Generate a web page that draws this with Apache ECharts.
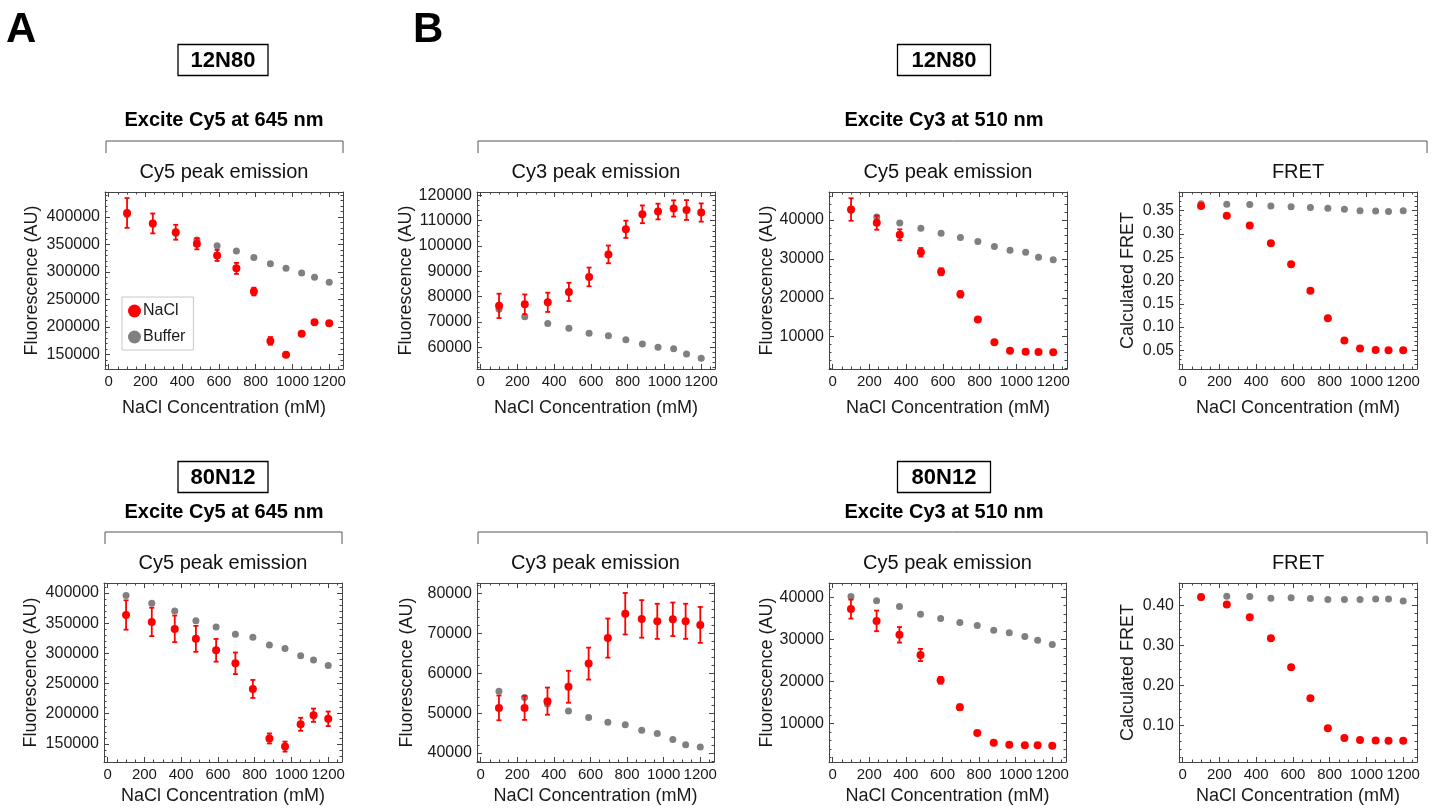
<!DOCTYPE html>
<html>
<head>
<meta charset="utf-8">
<title>NaCl titration</title>
<script src="https://cdn.jsdelivr.net/npm/echarts@6/dist/echarts.min.js"></script>
<style>
html, body { margin: 0; padding: 0; background: #fff; }
#chart { width: 1440px; height: 811px; }
</style>
</head>
<body>
<div id="chart"></div>
<script>
// NaCl concentrations (mM), same for every panel
const conc = [100, 240, 365, 480, 590, 695, 790, 880, 965, 1050, 1120, 1200];
const xTicks = [0, 200, 400, 600, 800, 1000, 1200];

// 12N80, excite Cy5 at 645 nm -> Cy5 peak emission
const a1Nacl = [407000, 388000, 372000, 351000, 330000, 306500, 264500, 175000, 150000, 188000, 209000, 207000];
const a1Err = [27000, 18000, 13500, 10000, 10000, 10000, 7000, 7000, 3000, 2500, 2500, 3500];
const a1Buffer = [404000, 387000, 370000, 358000, 347500, 338000, 326000, 315000, 306500, 298000, 290500, 281500];
const a1Ticks = [150000, 200000, 250000, 300000, 350000, 400000];

// 12N80, excite Cy3 at 510 nm
const b1Nacl = [76400, 77000, 77800, 81900, 87800, 96700, 106600, 112500, 113600, 114800, 114200, 113200];
const b1Err = [4800, 3900, 3800, 3600, 3700, 3500, 3400, 3500, 3100, 3200, 3900, 3600];
const b1Buffer = [75100, 72100, 69400, 67600, 65600, 64600, 63000, 61400, 60100, 59500, 57400, 55700];
const b1Ticks = [60000, 70000, 80000, 90000, 100000, 110000, 120000];

const c1Nacl = [42700, 39300, 36200, 31700, 26700, 20900, 14400, 8550, 6400, 6150, 6050, 6000];
const c1Err = [2900, 1800, 1400, 1100, 900, 800, 300, 250, 200, 200, 200, 200];
const c1Buffer = [42500, 40800, 39200, 37900, 36600, 35500, 34500, 33200, 32200, 31700, 30400, 29800];
const c1Ticks = [10000, 20000, 30000, 40000];

const d1Nacl = [0.360, 0.339, 0.318, 0.280, 0.235, 0.178, 0.119, 0.071, 0.054, 0.051, 0.050, 0.050];
const d1Buffer = [0.365, 0.3635, 0.363, 0.360, 0.3585, 0.3565, 0.355, 0.353, 0.350, 0.349, 0.348, 0.350];
const d1Ticks = [0.05, 0.10, 0.15, 0.20, 0.25, 0.30, 0.35];

// 80N12, excite Cy5 at 645 nm
const a2Nacl = [363500, 352000, 340500, 324000, 305000, 283500, 241000, 159000, 145500, 182500, 197500, 191500];
const a2Err = [24300, 23500, 22000, 21500, 18800, 17900, 14900, 8300, 8300, 10800, 11000, 12100];
const a2Buffer = [396000, 383000, 370000, 354000, 343500, 331500, 326500, 314000, 308000, 296000, 289000, 280000];
const a2Ticks = [150000, 200000, 250000, 300000, 350000, 400000];

// 80N12, excite Cy3 at 510 nm
const b2Nacl = [51300, 51300, 53000, 56600, 62400, 68800, 74900, 73600, 73000, 73500, 73000, 72100];
const b2Err = [3100, 3000, 3400, 4000, 4000, 4900, 5200, 4700, 4400, 4200, 4400, 4500];
const b2Buffer = [55500, 53900, 52300, 50500, 48900, 47700, 47100, 45700, 44900, 43400, 42100, 41500];
const b2Ticks = [40000, 50000, 60000, 70000, 80000];

const c2Nacl = [37200, 34400, 31100, 26300, 20300, 13900, 7800, 5500, 5000, 4850, 4850, 4750];
const c2Err = [2250, 2450, 1850, 1450, 800, 650, 250, 200, 150, 150, 150, 150];
const c2Buffer = [40200, 39200, 37800, 36000, 35000, 34000, 33300, 32200, 31600, 30700, 29800, 28800];
const c2Ticks = [10000, 20000, 30000, 40000];

const d2Nacl = [0.421, 0.4025, 0.370, 0.318, 0.245, 0.1675, 0.0925, 0.068, 0.063, 0.062, 0.061, 0.061];
const d2Buffer = [0.420, 0.423, 0.422, 0.418, 0.419, 0.4175, 0.415, 0.415, 0.415, 0.416, 0.416, 0.411];
const d2Ticks = [0.10, 0.20, 0.30, 0.40];

const FONT = '"Liberation Sans", Arial, sans-serif';
const FRAME = '#444';
const LABEL = '#1a1a1a';
const RED = '#ff0000';
const GREY = '#808080';
const X_MIN = -20, X_MAX = 1275;

const panels = [
  { title: 'Cy5 peak emission', yName: 'Fluorescence (AU)', nacl: a1Nacl, err: a1Err, buffer: a1Buffer, ticks: a1Ticks, min: 124000, max: 445000, dec: 0, box: [105, 192, 238, 177], yGap: 64, xGap: 30 },
  { title: 'Cy3 peak emission', yName: 'Fluorescence (AU)', nacl: b1Nacl, err: b1Err, buffer: b1Buffer, ticks: b1Ticks, min: 51500, max: 121300, dec: 0, box: [477, 192, 238, 177], yGap: 61, xGap: 30 },
  { title: 'Cy5 peak emission', yName: 'Fluorescence (AU)', nacl: c1Nacl, err: c1Err, buffer: c1Buffer, ticks: c1Ticks, min: 1700, max: 47200, dec: 0, box: [829, 192, 238, 177], yGap: 51, xGap: 30 },
  { title: 'FRET', yName: 'Calculated FRET', nacl: d1Nacl, err: null, buffer: d1Buffer, ticks: d1Ticks, min: 0.010, max: 0.390, dec: 2, box: [1179, 192, 238, 177], yGap: 42, xGap: 30 },
  { title: 'Cy5 peak emission', yName: 'Fluorescence (AU)', nacl: a2Nacl, err: a2Err, buffer: a2Buffer, ticks: a2Ticks, min: 120000, max: 416500, dec: 0, box: [104, 583, 238, 179], yGap: 64, xGap: 25 },
  { title: 'Cy3 peak emission', yName: 'Fluorescence (AU)', nacl: b2Nacl, err: b2Err, buffer: b2Buffer, ticks: b2Ticks, min: 37750, max: 82600, dec: 0, box: [477, 583, 237, 179], yGap: 61, xGap: 25 },
  { title: 'Cy5 peak emission', yName: 'Fluorescence (AU)', nacl: c2Nacl, err: c2Err, buffer: c2Buffer, ticks: c2Ticks, min: 900, max: 43400, dec: 0, box: [829, 583, 237, 179], yGap: 53, xGap: 25 },
  { title: 'FRET', yName: 'Calculated FRET', nacl: d2Nacl, err: null, buffer: d2Buffer, ticks: d2Ticks, min: 0.008, max: 0.456, dec: 2, box: [1179, 583, 238, 179], yGap: 42, xGap: 25 }
];

// minor ticks between the major ones (Mathematica style frame)
function minorTicks(ticks, lo, hi, parts) {
  const step = (ticks[1] - ticks[0]) / parts;
  const out = [];
  for (let v = ticks[0] - Math.ceil((ticks[0] - lo) / step) * step; v <= hi + 1e-12; v += step) {
    if (v >= lo) out.push(+v.toFixed(6));
  }
  return out;
}
const xMinor = minorTicks(xTicks, X_MIN, X_MAX, 4);

function tickAxis(extra) {
  return Object.assign({
    type: 'value',
    splitLine: { show: false },
    axisLine: { show: true, onZero: false, lineStyle: { color: FRAME, width: 1 } },
    axisLabel: { show: false }
  }, extra);
}

const grids = [], xAxes = [], yAxes = [], series = [], titles = [];

panels.forEach((p, g) => {
  const [left, top, width, height] = p.box;
  grids.push({ left, top, width, height, outerBoundsMode: 'none' });
  titles.push({
    text: p.title, left: left + width / 2, top: top - 30, textAlign: 'center', padding: 0,
    textStyle: { fontFamily: FONT, fontSize: 20, fontWeight: 'normal', color: '#111' }
  });

  const yMinor = minorTicks(p.ticks, p.min, p.max, 5);
  const xBase = { gridIndex: g, min: X_MIN, max: X_MAX };
  const yBase = { gridIndex: g, min: p.min, max: p.max };
  const xi = xAxes.length, yi = yAxes.length;

  xAxes.push(tickAxis(Object.assign({}, xBase, {
    position: 'bottom',
    axisTick: { inside: true, length: 5, customValues: xTicks, lineStyle: { color: FRAME } },
    axisLabel: {
      show: true, customValues: xTicks, interval: 0, hideOverlap: false, margin: 5,
      fontSize: 15, fontFamily: FONT, color: LABEL, formatter: v => String(v)
    },
    name: 'NaCl Concentration (mM)', nameLocation: 'middle', nameGap: p.xGap,
    nameTextStyle: { fontFamily: FONT, fontSize: 18, color: LABEL }
  })));
  xAxes.push(tickAxis(Object.assign({}, xBase, {
    position: 'top', axisTick: { inside: true, length: 5, customValues: xTicks, lineStyle: { color: FRAME } }
  })));
  xAxes.push(tickAxis(Object.assign({}, xBase, {
    position: 'bottom', axisLine: { show: false, onZero: false },
    axisTick: { inside: true, length: 2.5, customValues: xMinor, lineStyle: { color: FRAME } }
  })));
  xAxes.push(tickAxis(Object.assign({}, xBase, {
    position: 'top', axisLine: { show: false, onZero: false },
    axisTick: { inside: true, length: 2.5, customValues: xMinor, lineStyle: { color: FRAME } }
  })));

  yAxes.push(tickAxis(Object.assign({}, yBase, {
    position: 'left',
    axisTick: { inside: true, length: 5, customValues: p.ticks, lineStyle: { color: FRAME } },
    axisLabel: {
      show: true, customValues: p.ticks, interval: 0, hideOverlap: false, margin: 5,
      fontSize: 16, fontFamily: FONT, color: LABEL,
      formatter: v => p.dec ? v.toFixed(p.dec) : String(Math.round(v))
    },
    name: p.yName, nameLocation: 'middle', nameGap: p.yGap,
    nameTextStyle: { fontFamily: FONT, fontSize: 18, color: LABEL }
  })));
  yAxes.push(tickAxis(Object.assign({}, yBase, {
    position: 'right', axisTick: { inside: true, length: 5, customValues: p.ticks, lineStyle: { color: FRAME } }
  })));
  yAxes.push(tickAxis(Object.assign({}, yBase, {
    position: 'left', axisLine: { show: false, onZero: false },
    axisTick: { inside: true, length: 2.5, customValues: yMinor, lineStyle: { color: FRAME } }
  })));
  yAxes.push(tickAxis(Object.assign({}, yBase, {
    position: 'right', axisLine: { show: false, onZero: false },
    axisTick: { inside: true, length: 2.5, customValues: yMinor, lineStyle: { color: FRAME } }
  })));

  series.push({
    name: 'Buffer', type: 'scatter', xAxisIndex: xi, yAxisIndex: yi,
    symbolSize: 7, itemStyle: { color: GREY, opacity: 1 }, z: 2,
    data: conc.map((c, i) => [c, p.buffer[i]])
  });
  if (p.err) {
    series.push({
      name: 'NaCl error', type: 'custom', xAxisIndex: xi, yAxisIndex: yi, z: 3,
      encode: { x: 0, y: [1, 2] },
      data: conc.map((c, i) => [c, p.nacl[i] - p.err[i], p.nacl[i] + p.err[i]]),
      renderItem: (params, api) => {
        const x = api.value(0);
        const lo = api.coord([x, api.value(1)]);
        const hi = api.coord([x, api.value(2)]);
        const style = { stroke: RED, lineWidth: 1.8 };
        const cap = 2.5;
        return {
          type: 'group',
          children: [
            { type: 'line', shape: { x1: lo[0], y1: lo[1], x2: hi[0], y2: hi[1] }, style },
            { type: 'line', shape: { x1: lo[0] - cap, y1: lo[1], x2: lo[0] + cap, y2: lo[1] }, style },
            { type: 'line', shape: { x1: hi[0] - cap, y1: hi[1], x2: hi[0] + cap, y2: hi[1] }, style }
          ]
        };
      }
    });
  }
  series.push({
    name: 'NaCl', type: 'scatter', xAxisIndex: xi, yAxisIndex: yi,
    symbolSize: 8, itemStyle: { color: RED, opacity: 1 }, z: 4,
    data: conc.map((c, i) => [c, p.nacl[i]])
  });
});

// headers, boxed construct names and brackets
const boldText = (text, x, y, size) => ({
  type: 'text', x, y,
  style: { text, fill: '#000', font: 'bold ' + size + 'px ' + FONT, textAlign: 'center', textVerticalAlign: 'middle' }
});
const nameBox = (text, x, y, w) => ({
  type: 'group', children: [
    { type: 'rect', shape: { x: x - w / 2, y: y - 15.5, width: w, height: 31 }, style: { fill: '#fff', stroke: '#000', lineWidth: 1.3 } },
    boldText(text, x, y + 1, 22)
  ]
});
const bracket = (x1, x2, y) => ({
  type: 'polyline', shape: { points: [[x1, y + 12], [x1, y], [x2, y], [x2, y + 12]] },
  style: { stroke: '#555', lineWidth: 1, fill: null }
});

const graphics = [
  { type: 'text', x: 6, y: 9, style: { text: 'A', fill: '#000', font: 'bold 42px ' + FONT } },
  { type: 'text', x: 413, y: 9, style: { text: 'B', fill: '#000', font: 'bold 42px ' + FONT } },
  nameBox('12N80', 223, 60, 90),
  nameBox('12N80', 944, 60, 93),
  nameBox('80N12', 223, 477, 90),
  nameBox('80N12', 944, 477, 93),
  boldText('Excite Cy5 at 645 nm', 224, 120, 20),
  boldText('Excite Cy3 at 510 nm', 944, 120, 20),
  boldText('Excite Cy5 at 645 nm', 224, 512, 20),
  boldText('Excite Cy3 at 510 nm', 944, 512, 20),
  bracket(106, 343, 141),
  bracket(478, 1427, 141),
  bracket(105, 342, 532),
  bracket(478, 1427, 532)
];

const chart = echarts.init(document.getElementById('chart'));
chart.setOption({
  animation: false,
  backgroundColor: '#fff',
  title: titles,
  grid: grids,
  xAxis: xAxes,
  yAxis: yAxes,
  legend: {
    data: [{ name: 'NaCl' }, { name: 'Buffer' }],
    orient: 'vertical', left: 122, top: 297,
    icon: 'circle', itemWidth: 13, itemHeight: 13, itemGap: 10,
    padding: [6, 8, 5, 6],
    backgroundColor: '#fff', borderColor: '#c8c8c8', borderWidth: 1,
    textStyle: { fontFamily: FONT, fontSize: 16, color: LABEL, padding: [0, 0, 0, -3] },
    selectedMode: false
  },
  graphic: graphics,
  series: series
});
</script>
</body>
</html>
